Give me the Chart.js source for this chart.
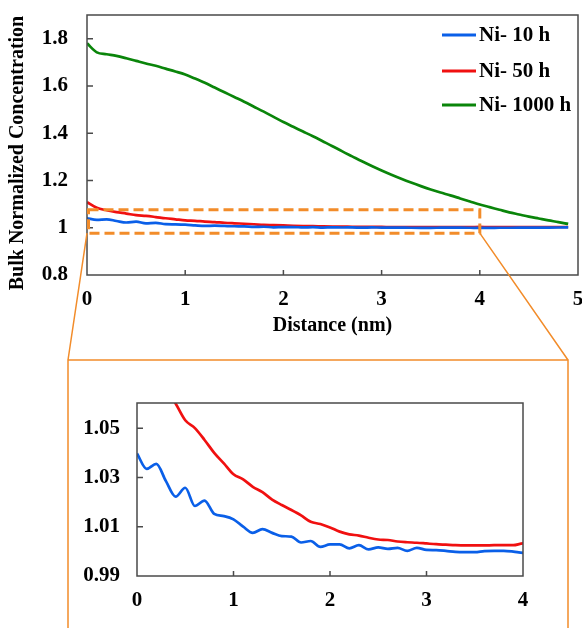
<!DOCTYPE html>
<html>
<head>
<meta charset="utf-8">
<script src="https://cdn.jsdelivr.net/npm/chart.js@4.4.1/dist/chart.umd.min.js"></script>
<style>
  html, body { margin: 0; padding: 0; background: #fff; }
  #wrap { position: relative; width: 582px; height: 628px; overflow: hidden; }
  #mainChart { position: absolute; left: 0; top: 0; }
  #insetChart { position: absolute; left: 68px; top: 360px; }
</style>
</head>
<body>
<div id="wrap">
  <canvas id="mainChart" width="582" height="628" style="width:582px;height:628px"></canvas>
  <canvas id="insetChart" width="500" height="268" style="width:500px;height:268px"></canvas>
</div>
<script>
// Distance from surface (nm)
const distance = [
  0.0, 0.1, 0.2, 0.3, 0.4, 0.5, 0.6, 0.7, 0.8, 0.9,
  1.0, 1.1, 1.2, 1.3, 1.4, 1.5, 1.6, 1.7, 1.8, 1.9,
  2.0, 2.1, 2.2, 2.3, 2.4, 2.5, 2.6, 2.7, 2.8, 2.9,
  3.0, 3.1, 3.2, 3.3, 3.4, 3.5, 3.6, 3.7, 3.8, 3.9,
  4.0, 4.1, 4.2, 4.3, 4.4, 4.5, 4.6, 4.7, 4.8, 4.9
];

// Bulk normalized concentration per anneal time
const ni10 = [
  1.0397, 1.0335, 1.0355, 1.0285, 1.0222, 1.0258, 1.0184, 1.0206, 1.0152, 1.0143,
  1.0130, 1.0100, 1.0075, 1.0090, 1.0075, 1.0062, 1.0060, 1.0036, 1.0042, 1.0018,
  1.0028, 1.0028, 1.0012, 1.0025, 1.0008, 1.0016, 1.0010, 1.0014, 1.0002, 1.0014,
  1.0006, 1.0005, 1.0002, 0.9998, 0.9997, 0.9997, 1.0001, 1.0002, 1.0002, 0.9999,
  0.9994, 0.9996, 0.9998, 1.0000, 1.0002, 1.0004, 1.0006, 1.0008, 1.0010, 1.0012
];
const ni50 = [
  1.108, 1.084, 1.074, 1.066, 1.060, 1.0532, 1.0500, 1.0452, 1.0400, 1.0357,
  1.0313, 1.0292, 1.0262, 1.0240, 1.0210, 1.0188, 1.0168, 1.0146, 1.0120, 1.0111,
  1.0097, 1.0080, 1.0069, 1.0064, 1.0055, 1.0048, 1.0046, 1.0040, 1.0037, 1.0035,
  1.0032, 1.0029, 1.0027, 1.0025, 1.0024, 1.0024, 1.0024, 1.0025, 1.0025, 1.0025,
  1.0032, 1.0030, 1.0030, 1.0030, 1.0030, 1.0030, 1.0030, 1.0030, 1.0030, 1.0030
];
const ni1000 = [
  1.780, 1.742, 1.734, 1.727, 1.717, 1.706, 1.695, 1.685, 1.673, 1.661,
  1.648, 1.631, 1.613, 1.593, 1.573, 1.553, 1.533, 1.512, 1.491, 1.469,
  1.447, 1.427, 1.407, 1.387, 1.366, 1.345, 1.323, 1.302, 1.281, 1.261,
  1.242, 1.224, 1.207, 1.191, 1.176, 1.162, 1.149, 1.137, 1.124, 1.111,
  1.098, 1.087, 1.076, 1.065, 1.056, 1.047, 1.039, 1.031, 1.024, 1.016
];

const seriesLabels = ['Ni- 10 h', 'Ni- 50 h', 'Ni- 1000 h'];
const seriesColors = ['#0A5FE8', '#F01010', '#0A850A'];

const mainXTicks = [0, 1, 2, 3, 4, 5];
const mainYTicks = [0.8, 1.0, 1.2, 1.4, 1.6, 1.8];
const insetXTicks = [0, 1, 2, 3, 4];
const insetYTicks = [0.99, 1.01, 1.03, 1.05];

// region of the main plot that is magnified below (data units)
const zoomX = [0, 4];
const zoomY = [0.977, 1.076];

const ORANGE = '#F28C2A';
const AXIS = '#4a4a4a';
const FONT = "'Liberation Serif', 'Times New Roman', serif";

function toPoints(ys) {
  return distance.map((d, i) => ({ x: d, y: ys[i] }));
}

function makeDataset(idx) {
  const values = [ni10, ni50, ni1000][idx];
  return {
    label: seriesLabels[idx],
    data: toPoints(values),
    borderColor: seriesColors[idx],
    borderWidth: 2.7,
    pointRadius: 0,
    cubicInterpolationMode: 'monotone',
    fill: false
  };
}

// Frame + inward tick marks, like the original figure
const frameTicks = {
  id: 'frameTicks',
  afterDatasetsDraw(chart) {
    const { ctx, chartArea: a, scales } = chart;
    ctx.save();
    ctx.strokeStyle = AXIS;
    ctx.lineWidth = 1.5;
    ctx.strokeRect(a.left, a.top, a.right - a.left, a.bottom - a.top);
    ctx.beginPath();
    scales.x.ticks.forEach(t => {
      const px = scales.x.getPixelForValue(t.value);
      if (px <= a.left + 1 || px >= a.right - 1) return;
      ctx.moveTo(px, a.bottom);
      ctx.lineTo(px, a.bottom - 5);
    });
    scales.y.ticks.forEach(t => {
      const py = scales.y.getPixelForValue(t.value);
      if (py >= a.bottom - 1 || py <= a.top + 1) return;
      ctx.moveTo(a.left, py);
      ctx.lineTo(a.left + 6, py);
    });
    ctx.stroke();
    ctx.restore();
  }
};

// Titles, legend, zoom box and magnifier frame on the main chart
const mainDecor = {
  id: 'mainDecor',
  afterDatasetsDraw(chart) {
    const { ctx, chartArea: a, scales } = chart;
    const x0 = scales.x.getPixelForValue(zoomX[0]);
    const x1 = scales.x.getPixelForValue(zoomX[1]);
    const yTop = scales.y.getPixelForValue(zoomY[1]);
    const yBot = scales.y.getPixelForValue(zoomY[0]);

    ctx.save();
    // dashed zoom box
    ctx.strokeStyle = ORANGE;
    ctx.lineWidth = 3;
    ctx.setLineDash([10, 5]);
    ctx.strokeRect(x0 + 1.5, yTop, x1 - x0 - 1.5, yBot - yTop);
    ctx.setLineDash([]);

    // connectors and magnifier frame
    ctx.lineWidth = 1.5;
    ctx.beginPath();
    ctx.moveTo(x0, yBot);
    ctx.lineTo(68, 360);
    ctx.moveTo(x1, yBot);
    ctx.lineTo(568, 360);
    ctx.moveTo(68, 640);
    ctx.lineTo(68, 360);
    ctx.lineTo(568, 360);
    ctx.lineTo(568, 640);
    ctx.stroke();

    // axis titles
    ctx.fillStyle = '#000';
    ctx.font = 'bold 20px ' + FONT;
    ctx.textAlign = 'center';
    ctx.textBaseline = 'middle';
    ctx.fillText('Distance (nm)', (a.left + a.right) / 2, 326);
    ctx.save();
    ctx.translate(18, 153);
    ctx.rotate(-Math.PI / 2);
    ctx.fillText('Bulk Normalized Concentration', 0, 0);
    ctx.restore();

    // legend inside the plot
    ctx.font = 'bold 21px ' + FONT;
    ctx.textAlign = 'left';
    const rows = [35, 71, 105];
    chart.data.datasets.forEach((ds, i) => {
      ctx.strokeStyle = ds.borderColor;
      ctx.lineWidth = 3;
      ctx.beginPath();
      ctx.moveTo(442, rows[i]);
      ctx.lineTo(476, rows[i]);
      ctx.stroke();
      ctx.fillText(ds.label, 479, rows[i] + 1);
    });
    ctx.restore();
  }
};

function axisTicks(list) {
  return scale => { scale.ticks = list.map(v => ({ value: v })); };
}

// fixed axis box size, no extra label overflow padding
function fixSize(prop, size) {
  return s => {
    s[prop] = size;
    s.paddingTop = s.paddingBottom = s.paddingLeft = s.paddingRight = 0;
  };
}

const tickFont = { family: FONT, size: 21, weight: 'bold' };

new Chart(document.getElementById('mainChart'), {
  type: 'line',
  data: { datasets: [makeDataset(0), makeDataset(1), makeDataset(2)] },
  options: {
    responsive: false,
    animation: false,
    layout: { padding: { left: 0, top: 15, right: 4, bottom: 293 } },
    plugins: { legend: { display: false }, tooltip: { enabled: false } },
    scales: {
      x: {
        type: 'linear',
        min: 0, max: 5,
        afterBuildTicks: axisTicks(mainXTicks),
        afterFit: fixSize('height', 60),
        grid: { display: false, drawTicks: false },
        border: { display: false },
        ticks: { font: tickFont, color: '#000', padding: 12, maxRotation: 0,
                 callback: v => String(v) }
      },
      y: {
        type: 'linear',
        min: 0.8, max: 1.9,
        afterBuildTicks: axisTicks(mainYTicks),
        afterFit: fixSize('width', 87),
        grid: { display: false, drawTicks: false },
        border: { display: false },
        ticks: { font: tickFont, color: '#000', padding: 19,
                 callback: v => String(+v.toFixed(2)) }
      }
    }
  },
  plugins: [frameTicks, mainDecor]
});

new Chart(document.getElementById('insetChart'), {
  type: 'line',
  data: { datasets: [makeDataset(0), makeDataset(1)] },
  options: {
    responsive: false,
    animation: false,
    layout: { padding: { left: 0, top: 43, right: 45, bottom: 0 } },
    plugins: { legend: { display: false }, tooltip: { enabled: false } },
    scales: {
      x: {
        type: 'linear',
        min: 0, max: 4,
        afterBuildTicks: axisTicks(insetXTicks),
        afterFit: fixSize('height', 52),
        grid: { display: false, drawTicks: false },
        border: { display: false },
        ticks: { font: tickFont, color: '#000', padding: 12, maxRotation: 0,
                 callback: v => String(v) }
      },
      y: {
        type: 'linear',
        min: 0.99, max: 1.0602,
        afterBuildTicks: axisTicks(insetYTicks),
        afterFit: fixSize('width', 69),
        grid: { display: false, drawTicks: false },
        border: { display: false },
        ticks: { font: tickFont, color: '#000', padding: 17,
                 callback: v => v.toFixed(2) }
      }
    }
  },
  plugins: [frameTicks]
});
</script>
</body>
</html>
